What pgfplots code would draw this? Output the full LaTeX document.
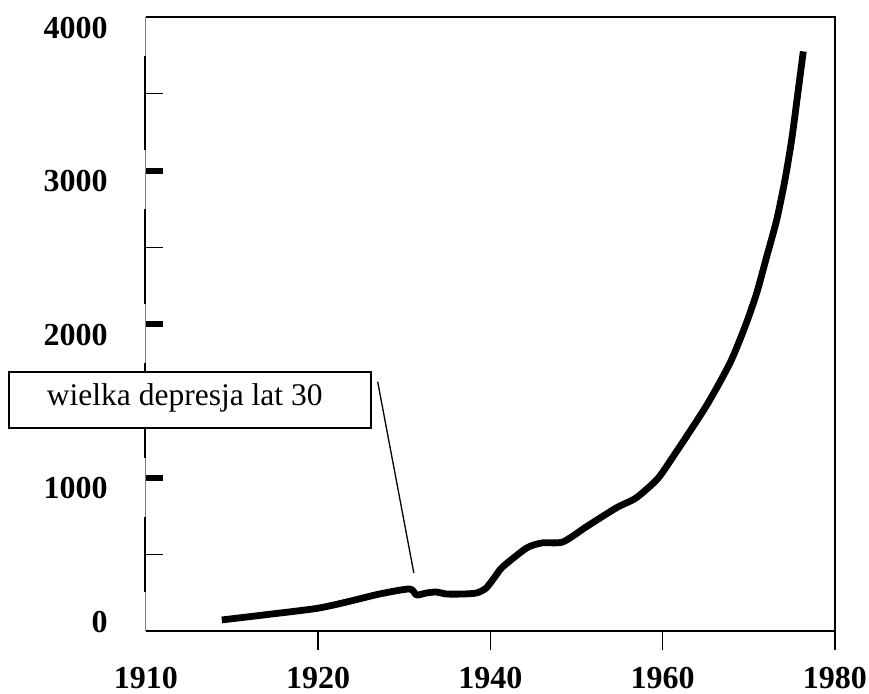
\documentclass[border=0pt]{standalone}
\usepackage{pgfplots}
\pgfplotsset{compat=1.18}
\usepackage{fontspec}
\setmainfont{Liberation Serif}
\begin{document}
\begin{tikzpicture}
\useasboundingbox (-73pt,-31pt) rectangle (361.5pt,315.5pt);
\begin{axis}[
  at={(0,0)}, anchor=south west,
  scale only axis, width=344.5pt, height=307pt,
  xmin=1900, xmax=1980, ymin=0, ymax=4000,
  clip=false,
  axis line style={draw=none},
  tick style={draw=none},
  xtick={1900,1920,1940,1960,1980},
  xticklabels={1910,1920,1940,1960,1980},
  ytick={1000,2000,3000,4000},
  yticklabels={1000,2000,3000,4000},
  extra y ticks={0}, extra y tick labels={0},
  extra y tick style={yticklabel style={yshift=9.8pt}},
  ticklabel style={font=\fontsize{16}{18}\selectfont\bfseries, inner sep=0pt},
  xticklabel style={anchor=north, yshift=-18pt},
  yticklabel style={anchor=east, xshift=-19pt, yshift=-5.3pt},
  /pgf/number format/assume math mode=true,
]
% spines
\draw[color={rgb,255:red,128;green,128;blue,128}, line width=0.5pt] (rel axis cs:0,0) -- (rel axis cs:0,1);
\draw[black, line width=0.8pt] (rel axis cs:0,1) -- (rel axis cs:1,1) -- (rel axis cs:1,0) -- (rel axis cs:0,0);
% x ticks
\draw[line width=0.75pt] (axis cs:1920,0) -- ([yshift=-9.5pt]axis cs:1920,0);
\draw[line width=0.75pt] (axis cs:1940,0) -- ([yshift=-9.5pt]axis cs:1940,0);
\draw[line width=0.75pt] (axis cs:1960,0) -- ([yshift=-9.5pt]axis cs:1960,0);
\draw[line width=0.75pt] (axis cs:1980,0) -- ([yshift=-9.5pt]axis cs:1980,0);
% y axis broken segments
\draw[line width=0.85pt] ([xshift=-0.6pt]axis cs:1900,252) -- ([xshift=-0.6pt]axis cs:1900,741);
\draw[line width=0.85pt] ([xshift=-0.6pt]axis cs:1900,1126) -- ([xshift=-0.6pt]axis cs:1900,1745);
\draw[line width=0.85pt] ([xshift=-0.6pt]axis cs:1900,2128) -- ([xshift=-0.6pt]axis cs:1900,2749);
\draw[line width=0.85pt] ([xshift=-0.6pt]axis cs:1900,3134) -- ([xshift=-0.6pt]axis cs:1900,3743);
% minor y ticks
\draw[line width=0.5pt] ([xshift=-0.5pt]axis cs:1900,500) -- ([xshift=8.5pt]axis cs:1900,500);
\draw[line width=0.5pt] ([xshift=-0.5pt]axis cs:1900,1500) -- ([xshift=8.5pt]axis cs:1900,1500);
\draw[line width=0.5pt] ([xshift=-0.5pt]axis cs:1900,2500) -- ([xshift=8.5pt]axis cs:1900,2500);
\draw[line width=0.5pt] ([xshift=-0.5pt]axis cs:1900,3500) -- ([xshift=8.5pt]axis cs:1900,3500);
% major y ticks
\draw[line width=3pt] (axis cs:1900,1000) -- ([xshift=8.5pt]axis cs:1900,1000);
\draw[line width=3pt] (axis cs:1900,2000) -- ([xshift=8.5pt]axis cs:1900,2000);
\draw[line width=3pt] (axis cs:1900,3000) -- ([xshift=8.5pt]axis cs:1900,3000);
% curve
\addplot[black, line width=3.4pt, smooth, tension=0.4, line cap=butt, line join=round] coordinates {
(1908.8,72) (1913.6,104) (1919.8,147) (1923.3,189) (1927.1,241) (1930.6,274)
(1931.4,235) (1932.6,248) (1933.7,254) (1934.9,241) (1936.8,241) (1938.4,248)
(1939.5,280) (1940.5,352) (1941.4,417) (1944.2,541) (1946.0,574) (1948.4,580)
(1951.1,678) (1954.6,802) (1956.9,867) (1959.3,985) (1960.8,1102) (1965.0,1461)
(1967.8,1745) (1969.55,1982) (1970.9,2200) (1972.07,2439) (1973.23,2678)
(1974.19,2939) (1974.97,3200) (1975.74,3526) (1976.32,3776)
};
% annotation
\draw[line width=0.65pt] (axis cs:1926.9,1624) -- (axis cs:1931.1,378);
\draw[line width=0.8pt, fill=white] (axis cs:1884.1,1324) rectangle (axis cs:1926.1,1689);
\node[font=\fontsize{15.75}{18}\selectfont, inner sep=0pt] at (axis cs:1904.5,1517) {wielka depresja lat 30};
\end{axis}
\end{tikzpicture}
\end{document}
